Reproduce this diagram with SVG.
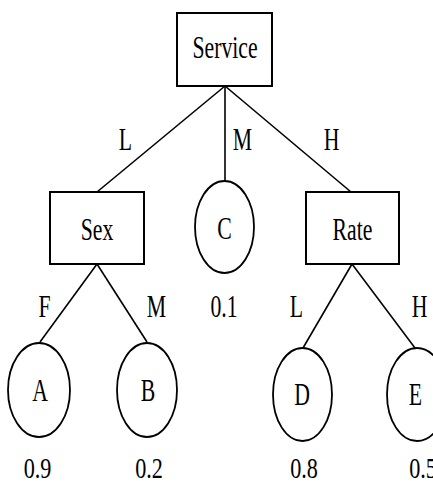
<svg xmlns="http://www.w3.org/2000/svg" width="433" height="485" viewBox="0 0 433 485">
<style>
.box{fill:#fff;stroke:#000;stroke-width:2}
.ell{fill:#fff;stroke:#000;stroke-width:1.8}
.ln{stroke:#000;stroke-width:1.6;fill:none}
text{font-family:"Liberation Serif","Times New Roman",serif;font-size:32px;fill:#000;text-anchor:middle}
.p{font-size:30px}
</style>
<rect width="433" height="485" fill="#fff"/>
<g id="connectors">
<line class="ln" x1="225" y1="86" x2="97" y2="192"/>
<line class="ln" x1="225" y1="86" x2="225" y2="181"/>
<line class="ln" x1="225" y1="86" x2="351" y2="192"/>
<line class="ln" x1="97" y1="264" x2="40" y2="342"/>
<line class="ln" x1="97" y1="264" x2="147" y2="342"/>
<line class="ln" x1="352" y1="264" x2="303" y2="348"/>
<line class="ln" x1="352" y1="264" x2="415" y2="348"/>
<text transform="translate(125.5,150) scale(0.68,1)">L</text>
<text transform="translate(242.5,150) scale(0.68,1)">M</text>
<text transform="translate(331.5,150) scale(0.68,1)">H</text>
<text transform="translate(44.5,317) scale(0.68,1)">F</text>
<text transform="translate(156.5,317) scale(0.68,1)">M</text>
<text transform="translate(296.5,317) scale(0.68,1)">L</text>
<text transform="translate(419.5,317) scale(0.68,1)">H</text>
</g>
<g id="service">
<rect class="box" x="177" y="13" width="95" height="73"/>
<text transform="translate(225,58) scale(0.68,1)">Service</text>
</g>
<g id="sex">
<rect class="box" x="50" y="192" width="94" height="72"/>
<text transform="translate(97,240) scale(0.68,1)">Sex</text>
</g>
<g id="c">
<ellipse class="ell" cx="224.5" cy="227" rx="29.5" ry="46"/>
<text transform="translate(224.5,239) scale(0.68,1)">C</text>
<text transform="translate(224,317) scale(0.68,1)">0.1</text>
</g>
<g id="rate">
<rect class="box" x="306" y="192" width="93" height="72"/>
<text transform="translate(352.5,240) scale(0.68,1)">Rate</text>
</g>
<g id="a">
<ellipse class="ell" cx="39" cy="390" rx="31" ry="47"/>
<text transform="translate(40,401) scale(0.68,1)">A</text>
<text class="p" transform="translate(37.5,478) scale(0.74,1)">0.9</text>
</g>
<g id="b">
<ellipse class="ell" cx="147" cy="390" rx="30" ry="47"/>
<text transform="translate(148,401) scale(0.68,1)">B</text>
<text class="p" transform="translate(149,478) scale(0.74,1)">0.2</text>
</g>
<g id="d">
<ellipse class="ell" cx="302.5" cy="394.5" rx="29.5" ry="46.5"/>
<text transform="translate(302,405) scale(0.68,1)">D</text>
<text class="p" transform="translate(304,478) scale(0.74,1)">0.8</text>
</g>
<g id="e">
<ellipse class="ell" cx="417" cy="394.5" rx="30" ry="46.5"/>
<text transform="translate(415.5,405) scale(0.68,1)">E</text>
<text class="p" transform="translate(423,478) scale(0.74,1)">0.5</text>
</g>
</svg>
